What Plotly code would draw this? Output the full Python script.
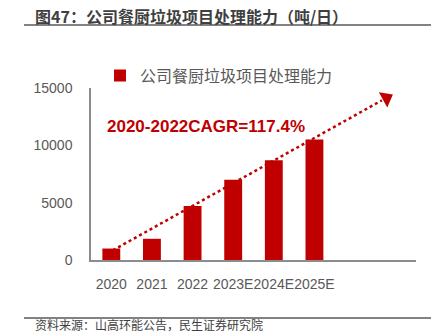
import plotly.graph_objects as go

# ---- data ----
categories = ["2020", "2021", "2022", "2023E", "2024E", "2025E"]
capacity = [1000, 1850, 4700, 7000, 8700, 10500]
series_name = "公司餐厨垃圾项目处理能力"
y_ticks = [0, 5000, 10000, 15000]
y_tick_labels = ["0", "5000", "10000", "15000"]
title_text = "图47：公司餐厨垃圾项目处理能力（吨/日）"
source_text = "资料来源：山高环能公告，民生证券研究院"
cagr_text = "2020-2022CAGR=117.4%"
# trend arrow (x in category index units, y in value units)
trend_x = [0.04, 6.66]
trend_y = [850, 13925]
arrow_head_x = [6.77]
arrow_head_y = [14126]

RED = "#C00000"
GRAY = "#595959"
AXIS = "#8C8C8C"
CJK = "Noto Sans CJK SC, Microsoft YaHei, sans-serif"
LAT = "Liberation Sans, Arial, sans-serif"

xs = list(range(len(categories)))

fig = go.Figure()
fig.add_trace(go.Bar(
    x=xs, y=capacity, name=series_name, marker_color=RED, width=0.44,
    marker_line_width=0,
))
fig.add_trace(go.Scatter(
    x=trend_x, y=trend_y, mode="lines", showlegend=False,
    line=dict(color=RED, width=2.5, dash="dot"), hoverinfo="skip",
))
fig.add_trace(go.Scatter(
    x=arrow_head_x, y=arrow_head_y, mode="markers", showlegend=False,
    marker=dict(symbol="triangle-up", size=15, angle=61, color=RED,
                line=dict(width=0)), hoverinfo="skip",
))

W, H = 441, 334
L, R, T, B = 91, 25, 88, 74.3
pw = W - L - R
ph = H - T - B

def px2x(px):
    return (px - L) / pw

def py2y(py):
    return (H - B - py) / ph

fig.update_layout(
    width=W, height=H,
    margin=dict(l=L, r=R, t=T, b=B, pad=0),
    paper_bgcolor="white", plot_bgcolor="white",
    showlegend=True,
    legend=dict(orientation="h", x=px2x(100), y=py2y(75.7), xanchor="left",
                yanchor="middle", font=dict(family=CJK, size=16, color=GRAY),
                bgcolor="rgba(0,0,0,0)", itemclick=False),
    xaxis=dict(range=[-0.5, 7.5], tickmode="array", tickvals=xs,
               ticktext=categories, showgrid=False, zeroline=False,
               showline=True, linecolor=AXIS, linewidth=1.5,
               ticks="", ticklabelstandoff=10, tickangle=0,
               tickfont=dict(family=LAT, size=14, color=GRAY)),
    yaxis=dict(range=[0, 15000], tickmode="array", tickvals=y_ticks,
               ticktext=y_tick_labels,
               showgrid=False, zeroline=False, showline=True,
               linecolor=AXIS, linewidth=1.5, ticks="",
               ticklabelstandoff=14,
               tickfont=dict(family=LAT, size=14, color=GRAY)),
    annotations=[
        dict(text="<b>" + title_text + "</b>", xref="paper", yref="paper",
             x=px2x(33), y=py2y(16), xanchor="left", yanchor="middle",
             showarrow=False, font=dict(family=CJK, size=16, color="#3F3F3F")),
        dict(text="<b>" + cagr_text + "</b>", xref="paper", yref="paper",
             x=px2x(105), y=py2y(126.7), xanchor="left", yanchor="middle",
             showarrow=False, font=dict(family=LAT, size=17, color=RED)),
        dict(text=source_text, xref="paper", yref="paper",
             x=px2x(33), y=py2y(324.5), xanchor="left", yanchor="middle",
             showarrow=False, font=dict(family=CJK, size=12, color="#404040")),
    ],
    shapes=[
        dict(type="line", xref="paper", yref="paper", x0=px2x(24), x1=px2x(431),
             y0=py2y(25), y1=py2y(25), line=dict(color="#595959", width=1.5)),
        dict(type="line", xref="paper", yref="paper", x0=px2x(24), x1=px2x(431),
             y0=py2y(317.7), y1=py2y(317.7), line=dict(color="#595959", width=1.5)),
    ],
)

fig.write_html("out.html", config={"displayModeBar": False})
